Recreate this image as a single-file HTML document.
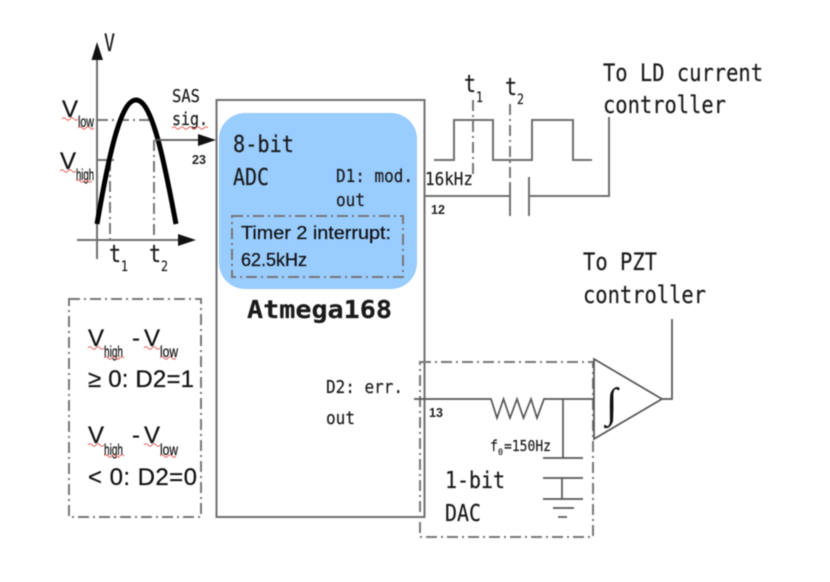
<!DOCTYPE html>
<html><head><meta charset="utf-8">
<style>
html,body{margin:0;padding:0;background:#fff;width:830px;height:582px;overflow:hidden}
svg{display:block;filter:blur(.5px)}
.m{font-family:"DejaVu Sans Mono","Liberation Mono",monospace;fill:#1a1a1a;stroke:#1a1a1a;stroke-width:.2}
.s{font-family:"Liberation Sans",sans-serif;fill:#111;stroke:#111;stroke-width:.25}
.b{font-family:"Liberation Sans",sans-serif;font-weight:bold;font-size:12.5px;fill:#222}
.l{fill:none;stroke:#6f6f6f;stroke-width:2}
.t{fill:none;stroke:#555;stroke-width:1.7}
.d{fill:none;stroke:#777;stroke-width:2;stroke-dasharray:11 4 2 4}
.q{fill:none;stroke:#e0605a;stroke-width:1}
</style></head><body>
<svg width="830" height="582" viewBox="0 0 830 582" xmlns="http://www.w3.org/2000/svg">
<rect width="830" height="582" fill="#fff"/>

<!-- main box -->
<rect x="216.500" y="100" width="208" height="417" class="l"/>
<rect x="219" y="113" width="198" height="176" rx="26" fill="#99ccff"/>
<rect x="232" y="216" width="171" height="61" class="d"/>

<!-- axes -->
<line x1="97" y1="259" x2="97" y2="55" class="l"/>
<polygon points="97,42 91.500,60 103,60" fill="#111"/>
<line x1="77" y1="240" x2="180" y2="240" class="l"/>
<polygon points="196,240 178,234 178,246" fill="#111"/>
<line x1="97" y1="120" x2="150" y2="120" class="d" stroke-width="1.500"/>
<line x1="97" y1="160" x2="118" y2="160" class="d" stroke-width="1.500"/>
<line x1="110" y1="160" x2="110" y2="240" class="d"/>
<line x1="154" y1="140" x2="154" y2="240" class="d"/>
<path d="M97,224 C108,160 120,100 136,100 C152,100 164,160 176,224" fill="none" stroke="#000" stroke-width="5"/>
<line x1="155" y1="140" x2="200" y2="140" class="t"/>
<polygon points="216,140 198,134 198,146" fill="#111"/>

<text x="104" y="51" class="m" font-size="24" textLength="11" lengthAdjust="spacingAndGlyphs">V</text>
<text x="109" y="262" class="m" font-size="24" textLength="12" lengthAdjust="spacingAndGlyphs">t</text>
<text x="121" y="271" class="m" font-size="14" textLength="7" lengthAdjust="spacingAndGlyphs">1</text>
<text x="149" y="262" class="m" font-size="24" textLength="12" lengthAdjust="spacingAndGlyphs">t</text>
<text x="161" y="271" class="m" font-size="14" textLength="7" lengthAdjust="spacingAndGlyphs">2</text>

<text x="62" y="117" class="s" font-size="24">V</text>
<text x="78" y="127" class="s" font-size="16" textLength="16" lengthAdjust="spacingAndGlyphs">low</text>
<path d="M62,119 q2,-2.500 4,0 t4,0 t4,0 t4,0 M78,128 q2,-2.500 4,0 t4,0 t4,0 t4,0" class="q"/>
<text x="60" y="169" class="s" font-size="24">V</text>
<text x="76" y="180" class="s" font-size="16" textLength="18" lengthAdjust="spacingAndGlyphs">high</text>
<path d="M60,171 q2,-2.500 4,0 t4,0 t4,0 t4,0 M76,181 q2,-2.500 4,0 t4,0 t4,0 t4,0" class="q"/>

<text x="172" y="102" class="m" font-size="18" textLength="28" lengthAdjust="spacingAndGlyphs">SAS</text>
<text x="172" y="125" class="m" font-size="18" textLength="36" lengthAdjust="spacingAndGlyphs">sig.</text>
<path d="M172,128 q2,-2.500 4,0 t4,0 t4,0 t4,0 t4,0 t4,0 t4,0 t4,0 t4,0" class="q"/>
<text x="192" y="164" class="b">23</text>

<!-- inside chip -->
<text x="233" y="152" class="m" font-size="23.500" textLength="61" lengthAdjust="spacingAndGlyphs">8-bit</text>
<text x="233" y="185" class="m" font-size="23.500" textLength="36" lengthAdjust="spacingAndGlyphs">ADC</text>
<text x="336" y="182" class="m" font-size="18" textLength="77" lengthAdjust="spacingAndGlyphs">D1: mod.</text>
<text x="336" y="206" class="m" font-size="18" textLength="29" lengthAdjust="spacingAndGlyphs">out</text>
<text x="241" y="239" class="s" font-size="18" textLength="150" lengthAdjust="spacingAndGlyphs">Timer 2 interrupt:</text>
<text x="241" y="266" class="s" font-size="18">62.5kHz</text>
<text x="247" y="318" class="m" font-size="25" font-weight="bold" textLength="145" lengthAdjust="spacingAndGlyphs">Atmega168</text>
<text x="326" y="393" class="m" font-size="18" textLength="77" lengthAdjust="spacingAndGlyphs">D2: err.</text>
<text x="326" y="424" class="m" font-size="18" textLength="29" lengthAdjust="spacingAndGlyphs">out</text>

<!-- wave and cap -->
<polyline points="434,160 454,160 454,120 493,120 493,160 532,160 532,120 573,120 573,160 592,160" class="l"/>
<line x1="473" y1="100" x2="473" y2="178" class="d"/>
<line x1="510" y1="104" x2="510" y2="184" class="d"/>
<polyline points="424,196 510,196" class="l"/>
<line x1="510" y1="184" x2="510" y2="216" class="l"/>
<line x1="529" y1="177" x2="529" y2="216" class="l"/>
<polyline points="529,196 609,196 609,117" class="l"/>
<text x="464" y="92" class="m" font-size="24" textLength="12" lengthAdjust="spacingAndGlyphs">t</text>
<text x="476" y="102" class="m" font-size="14" textLength="7" lengthAdjust="spacingAndGlyphs">1</text>
<text x="505" y="95" class="m" font-size="24" textLength="12" lengthAdjust="spacingAndGlyphs">t</text>
<text x="517" y="104" class="m" font-size="14" textLength="7" lengthAdjust="spacingAndGlyphs">2</text>
<text x="425" y="185" class="m" font-size="18" textLength="48" lengthAdjust="spacingAndGlyphs">16kHz</text>
<text x="431" y="214" class="b">12</text>
<text x="603" y="81" class="m" font-size="24" textLength="160" lengthAdjust="spacingAndGlyphs">To LD current</text>
<text x="603" y="113" class="m" font-size="24" textLength="123" lengthAdjust="spacingAndGlyphs">controller</text>

<!-- left condition box -->
<rect x="69" y="299" width="132" height="218" class="d"/>
<text x="88" y="346" class="s" font-size="24">V</text>
<text x="104" y="357" class="s" font-size="16" textLength="19" lengthAdjust="spacingAndGlyphs">high</text>
<text x="132" y="346" class="s" font-size="24">-</text>
<text x="144" y="346" class="s" font-size="24">V</text>
<text x="160" y="357" class="s" font-size="16" textLength="18" lengthAdjust="spacingAndGlyphs">low</text>
<path d="M88,348 q2,-2.500 4,0 t4,0 t4,0 t4,0 M104,358 q2,-2.500 4,0 t4,0 t4,0 t4,0 t4,0 M144,348 q2,-2.500 4,0 t4,0 t4,0 t4,0 M160,358 q2,-2.500 4,0 t4,0 t4,0 t4,0" class="q"/>
<text x="88" y="387" class="s" font-size="24" textLength="106">≥ 0: D2=1</text>
<text x="88" y="443" class="s" font-size="24">V</text>
<text x="104" y="455" class="s" font-size="16" textLength="19" lengthAdjust="spacingAndGlyphs">high</text>
<text x="132" y="443" class="s" font-size="24">-</text>
<text x="144" y="443" class="s" font-size="24">V</text>
<text x="160" y="455" class="s" font-size="16" textLength="18" lengthAdjust="spacingAndGlyphs">low</text>
<path d="M88,445 q2,-2.500 4,0 t4,0 t4,0 t4,0 M104,456 q2,-2.500 4,0 t4,0 t4,0 t4,0 t4,0 M144,445 q2,-2.500 4,0 t4,0 t4,0 t4,0 M160,456 q2,-2.500 4,0 t4,0 t4,0 t4,0" class="q"/>
<text x="88" y="485" class="s" font-size="24" textLength="109">&lt; 0: D2=0</text>

<!-- DAC -->
<rect x="420" y="362" width="173" height="175" class="d"/>
<polyline points="414,399 491,399 497,418 503.500,399 510,418 517,399 523.500,418 531,399 537,418 544,399 594,399" class="t"/>
<line x1="563" y1="399" x2="563" y2="458" class="t"/>
<line x1="543" y1="458" x2="583" y2="458" class="t"/>
<line x1="543" y1="478" x2="583" y2="478" class="t"/>
<line x1="562" y1="478" x2="562" y2="499" class="t"/>
<line x1="543" y1="499" x2="583" y2="499" class="t"/>
<line x1="553" y1="508" x2="574" y2="508" class="t"/>
<line x1="558" y1="517" x2="567" y2="517" class="t"/>
<polygon points="594,359 662,399 594,439" fill="#fff" stroke="#555" stroke-width="1.700"/>
<polyline points="662,399 672,399 672,319" class="t"/>
<text x="606" y="417" font-family="'Liberation Serif',serif" font-size="42" font-weight="bold" fill="#111">∫</text>
<text x="429" y="417" class="b">13</text>
<text x="490" y="451" class="m" font-size="15" textLength="8" lengthAdjust="spacingAndGlyphs">f</text>
<text x="498" y="455" class="m" font-size="9" textLength="5" lengthAdjust="spacingAndGlyphs">0</text>
<text x="504" y="451" class="m" font-size="15" textLength="47" lengthAdjust="spacingAndGlyphs">=150Hz</text>
<text x="445" y="488" class="m" font-size="23.500" textLength="60" lengthAdjust="spacingAndGlyphs">1-bit</text>
<text x="445" y="521" class="m" font-size="23.500" textLength="36" lengthAdjust="spacingAndGlyphs">DAC</text>
<text x="583" y="270" class="m" font-size="24" textLength="74" lengthAdjust="spacingAndGlyphs">To PZT</text>
<text x="583" y="303" class="m" font-size="24" textLength="123" lengthAdjust="spacingAndGlyphs">controller</text>
</svg>
</body></html>
